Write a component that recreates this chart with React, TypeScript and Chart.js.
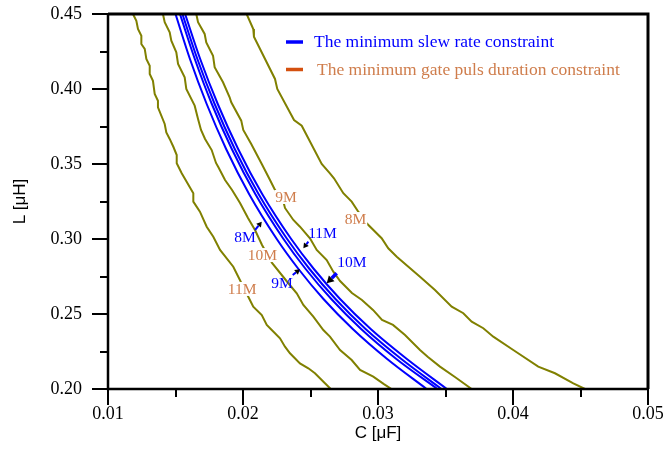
import React, { useEffect, useRef } from 'react';
import { Chart, registerables } from 'chart.js';

Chart.register(...registerables);

// ---------- data (C in µF, L in µH) ----------
const xTickLabels = ['0.01', '0.02', '0.03', '0.04', '0.05'];
const yTickLabels = ['0.20', '0.25', '0.30', '0.35', '0.40', '0.45'];

// minimum gate pulse duration constraint curves (olive)
const gate11M_C = [0.01185, 0.0121, 0.01222, 0.01247, 0.01247, 0.01272, 0.01284, 0.01309, 0.01309, 0.01333, 0.01346, 0.0137, 0.0137, 0.0142, 0.01432, 0.01457, 0.01484, 0.01509, 0.01509, 0.01546, 0.01632, 0.01632, 0.01681, 0.01731, 0.0178, 0.0183, 0.01928, 0.02039, 0.02076, 0.02139, 0.02176, 0.02213, 0.02274, 0.02311, 0.02348, 0.02422, 0.02484, 0.02533, 0.02607, 0.0265];
const gate11M_L = [0.45, 0.4455, 0.44, 0.4355, 0.43, 0.4267, 0.42, 0.4155, 0.41, 0.4055, 0.3967, 0.3922, 0.3878, 0.3767, 0.3711, 0.3667, 0.3615, 0.356, 0.3505, 0.3438, 0.3305, 0.3249, 0.3182, 0.3082, 0.3015, 0.2927, 0.2815, 0.2615, 0.2549, 0.2493, 0.2427, 0.2393, 0.2338, 0.2282, 0.2238, 0.2171, 0.2138, 0.2105, 0.2038, 0.2];

const gate10M_C = [0.01407, 0.0142, 0.01457, 0.01469, 0.01506, 0.01519, 0.01568, 0.0158, 0.01642, 0.01667, 0.01689, 0.01719, 0.01768, 0.018, 0.01817, 0.01867, 0.01919, 0.01978, 0.02037, 0.02089, 0.02141, 0.02215, 0.02336, 0.02398, 0.02447, 0.02521, 0.02595, 0.02644, 0.02719, 0.02805, 0.02867, 0.02965, 0.03044, 0.031];
const gate10M_L = [0.45, 0.4445, 0.4378, 0.4322, 0.4245, 0.4167, 0.4078, 0.4, 0.3889, 0.38, 0.3727, 0.3667, 0.3593, 0.3507, 0.348, 0.3393, 0.3327, 0.324, 0.314, 0.306, 0.296, 0.284, 0.2705, 0.2638, 0.256, 0.2482, 0.2393, 0.2349, 0.226, 0.2193, 0.2127, 0.2082, 0.2033, 0.2];

const gate9M_C = [0.01654, 0.01667, 0.01716, 0.01728, 0.01778, 0.0179, 0.01852, 0.01901, 0.01913, 0.01987, 0.02002, 0.02061, 0.02139, 0.022, 0.02237, 0.02296, 0.02311, 0.02373, 0.02422, 0.02496, 0.02546, 0.0262, 0.02669, 0.02719, 0.02807, 0.02881, 0.02963, 0.0303, 0.03111, 0.032, 0.03311, 0.0337, 0.03459, 0.0357, 0.03694];
const gate9M_L = [0.45, 0.4445, 0.4367, 0.4311, 0.4222, 0.4145, 0.4045, 0.3945, 0.3911, 0.3789, 0.3727, 0.3633, 0.35, 0.3393, 0.3327, 0.326, 0.3207, 0.3127, 0.3082, 0.3005, 0.2927, 0.286, 0.2782, 0.272, 0.264, 0.2593, 0.2527, 0.246, 0.2427, 0.236, 0.226, 0.2213, 0.2149, 0.208, 0.2];

const gate8M_C = [0.02027, 0.02076, 0.02081, 0.02237, 0.02254, 0.02378, 0.02435, 0.02583, 0.02644, 0.02674, 0.02743, 0.02805, 0.02854, 0.02916, 0.03027, 0.03076, 0.03139, 0.03311, 0.03422, 0.03546, 0.03632, 0.03694, 0.0378, 0.03854, 0.04002, 0.04187, 0.04311, 0.04447, 0.04533];
const gate8M_L = [0.45, 0.44, 0.4349, 0.4067, 0.4, 0.3793, 0.3755, 0.35, 0.3438, 0.3405, 0.3305, 0.3249, 0.3182, 0.3105, 0.3005, 0.2938, 0.2882, 0.2749, 0.266, 0.2549, 0.2505, 0.2449, 0.2405, 0.2349, 0.226, 0.2149, 0.2105, 0.2038, 0.2];

// minimum slew rate constraint curves (blue)
const slewL = [0.45, 0.42, 0.39, 0.36, 0.33, 0.3, 0.28, 0.26, 0.24, 0.22, 0.2];
const slew8M_C = [0.015, 0.01607, 0.01731, 0.01875, 0.02045, 0.0225, 0.02411, 0.02596, 0.02813, 0.03068, 0.0336];
const slew9M_C = [0.01533, 0.01643, 0.01769, 0.01917, 0.02091, 0.023, 0.02464, 0.02654, 0.02875, 0.03136, 0.0344];
const slew10M_C = [0.01551, 0.01662, 0.0179, 0.01939, 0.02115, 0.02327, 0.02493, 0.02685, 0.02908, 0.03173, 0.0347];
const slew11M_C = [0.01571, 0.01683, 0.01813, 0.01964, 0.02142, 0.02357, 0.02525, 0.02719, 0.02946, 0.03214, 0.0351];

const legendTexts = ['The minimum slew rate constraint', 'The minimum gate puls duration constraint'];

// curve annotations (data coordinates)
const gateLabels = [
  { text: '9M', c: 0.02319, l: 0.328 },
  { text: '8M', c: 0.02833, l: 0.3133 },
  { text: '10M', c: 0.02144, l: 0.2893 },
  { text: '11M', c: 0.01993, l: 0.2667 },
];
const slewLabels = [
  { text: '8M', c: 0.02015, l: 0.3013, tail: [0.02089, 0.306], tip: [0.02139, 0.3115], w: 2 },
  { text: '11M', c: 0.02589, l: 0.304, tail: [0.02484, 0.2982], tip: [0.02447, 0.2938], w: 2 },
  { text: '9M', c: 0.02289, l: 0.2707, tail: [0.02368, 0.276], tip: [0.02422, 0.2798], w: 2 },
  { text: '10M', c: 0.02807, l: 0.2847, tail: [0.02694, 0.2771], tip: [0.0262, 0.2705], w: 3.5 },
];

const OLIVE = '#808000';
const BLUE = '#0000ff';
const ORANGE_TXT = '#cf7d4c';
const ORANGE_LINE = '#d4500f';
const SERIF = '"Liberation Serif", "Times New Roman", serif';
const SANS = '"Liberation Sans", Arial, sans-serif';

const zip = (cs: number[], ls: number[]) => {
  const n = Math.min(cs.length, ls.length);
  const out: { x: number; y: number }[] = [];
  for (let i = 0; i < n; i++) out.push({ x: cs[i], y: ls[i] });
  return out;
};

const isMultiple = (v: number, step: number) => Math.abs(v / step - Math.round(v / step)) < 1e-6;

const decorPlugin = {
  id: 'decor',
  afterDraw(chart: any) {
    const { ctx, chartArea: a } = chart;
    const xs = chart.scales.x;
    const ys = chart.scales.y;
    ctx.save();
    ctx.strokeStyle = '#000';
    ctx.lineCap = 'butt';

    // ticks
    ctx.lineWidth = 2;
    xs.ticks.forEach((t: any) => {
      const px = Math.round(xs.getPixelForValue(t.value));
      const len = isMultiple(t.value, 0.01) ? 16 : 8;
      ctx.beginPath();
      ctx.moveTo(px, a.bottom);
      ctx.lineTo(px, a.bottom + len);
      ctx.stroke();
    });
    ys.ticks.forEach((t: any) => {
      const py = Math.round(ys.getPixelForValue(t.value));
      const len = isMultiple(t.value, 0.05) ? 16 : 8;
      ctx.beginPath();
      ctx.moveTo(a.left, py);
      ctx.lineTo(a.left - len, py);
      ctx.stroke();
    });

    // frame
    ctx.lineWidth = 2.5;
    ctx.beginPath();
    ctx.moveTo(a.left, a.top);
    ctx.lineTo(a.left, a.bottom);
    ctx.lineTo(a.right, a.bottom);
    ctx.stroke();
    ctx.lineWidth = 3;
    ctx.beginPath();
    ctx.moveTo(a.left, a.top);
    ctx.lineTo(a.right, a.top);
    ctx.lineTo(a.right, a.bottom);
    ctx.stroke();

    // axis titles
    ctx.fillStyle = '#000';
    ctx.font = `17px ${SANS}`;
    ctx.textAlign = 'center';
    ctx.textBaseline = 'middle';
    ctx.fillText('C [\u03bcF]', (a.left + a.right) / 2, a.bottom + 44);
    ctx.save();
    ctx.translate(20, (a.top + a.bottom) / 2);
    ctx.rotate(-Math.PI / 2);
    ctx.fillText('L [\u03bcH]', 0, 0);
    ctx.restore();

    // legend
    const lx0 = a.left + 178;
    ctx.lineWidth = 3.5;
    ctx.strokeStyle = BLUE;
    ctx.beginPath();
    ctx.moveTo(lx0, a.top + 28);
    ctx.lineTo(lx0 + 17, a.top + 28);
    ctx.stroke();
    ctx.strokeStyle = ORANGE_LINE;
    ctx.beginPath();
    ctx.moveTo(lx0, a.top + 55.5);
    ctx.lineTo(lx0 + 17, a.top + 55.5);
    ctx.stroke();
    ctx.font = `17.5px ${SERIF}`;
    ctx.textAlign = 'left';
    ctx.textBaseline = 'alphabetic';
    ctx.fillStyle = BLUE;
    ctx.fillText(legendTexts[0], lx0 + 28, a.top + 33);
    ctx.fillStyle = ORANGE_TXT;
    ctx.fillText(legendTexts[1], lx0 + 31, a.top + 61);

    // gate labels with white background
    ctx.font = `15.5px ${SERIF}`;
    ctx.textAlign = 'center';
    ctx.textBaseline = 'middle';
    gateLabels.forEach((g) => {
      const px = xs.getPixelForValue(g.c);
      const py = ys.getPixelForValue(g.l);
      const w = ctx.measureText(g.text).width;
      ctx.fillStyle = '#fff';
      ctx.fillRect(px - w / 2 - 1, py - 7, w + 2, 14);
      ctx.fillStyle = ORANGE_TXT;
      ctx.fillText(g.text, px, py + 1);
    });

    // slew labels with arrows
    slewLabels.forEach((s) => {
      const px = xs.getPixelForValue(s.c);
      const py = ys.getPixelForValue(s.l);
      ctx.fillStyle = BLUE;
      ctx.fillText(s.text, px, py + 1);
      const tx = xs.getPixelForValue(s.tail[0]);
      const ty = ys.getPixelForValue(s.tail[1]);
      const hx = xs.getPixelForValue(s.tip[0]);
      const hy = ys.getPixelForValue(s.tip[1]);
      const ang = Math.atan2(hy - ty, hx - tx);
      const hl = s.w > 2 ? 7 : 5;
      const hw = s.w > 2 ? 4 : 3;
      const bx = hx - hl * Math.cos(ang);
      const by = hy - hl * Math.sin(ang);
      ctx.strokeStyle = BLUE;
      ctx.lineWidth = s.w;
      ctx.beginPath();
      ctx.moveTo(tx, ty);
      ctx.lineTo(bx, by);
      ctx.stroke();
      ctx.fillStyle = '#000';
      ctx.beginPath();
      ctx.moveTo(hx, hy);
      ctx.lineTo(bx + hw * Math.sin(ang), by - hw * Math.cos(ang));
      ctx.lineTo(bx - hw * Math.sin(ang), by + hw * Math.cos(ang));
      ctx.closePath();
      ctx.fill();
    });

    ctx.restore();
  },
};

export default function App() {
  const ref = useRef<HTMLCanvasElement | null>(null);

  useEffect(() => {
    document.body.style.margin = '0';
    const canvas = ref.current;
    if (!canvas) return;

    const olive = (d: { x: number; y: number }[]) => ({
      data: d,
      borderColor: OLIVE,
      borderWidth: 2,
      pointRadius: 0,
      tension: 0,
      fill: false,
    });
    const blue = (d: { x: number; y: number }[]) => ({
      data: d,
      borderColor: BLUE,
      borderWidth: 2,
      pointRadius: 0,
      cubicInterpolationMode: 'monotone' as const,
      fill: false,
    });

    const chart = new Chart(canvas, {
      type: 'line',
      data: {
        datasets: [
          olive(zip(gate11M_C, gate11M_L)),
          olive(zip(gate10M_C, gate10M_L)),
          olive(zip(gate9M_C, gate9M_L)),
          olive(zip(gate8M_C, gate8M_L)),
          blue(zip(slew8M_C, slewL)),
          blue(zip(slew9M_C, slewL)),
          blue(zip(slew10M_C, slewL)),
          blue(zip(slew11M_C, slewL)),
        ] as any,
      },
      options: {
        animation: false,
        responsive: false,
        devicePixelRatio: 1,
        layout: { padding: { top: 14, right: 17, left: 0, bottom: 0 } },
        plugins: { legend: { display: false }, tooltip: { enabled: false } },
        scales: {
          x: {
            type: 'linear',
            min: 0.01,
            max: 0.05,
            grid: { display: false, drawTicks: false },
            border: { display: false },
            ticks: {
              stepSize: 0.005,
              autoSkip: false,
              maxRotation: 0,
              padding: 14,
              color: '#000',
              font: { family: SERIF, size: 18 },
              callback: (v: any) => {
                const lab = xTickLabels.find((s) => Math.abs(Number(s) - Number(v)) < 1e-7);
                return lab ?? '';
              },
            },
            afterFit: (s: any) => {
              s.height = 77;
              s.paddingLeft = 0;
              s.paddingRight = 0;
            },
          },
          y: {
            type: 'linear',
            min: 0.2,
            max: 0.45,
            grid: { display: false, drawTicks: false },
            border: { display: false },
            ticks: {
              stepSize: 0.025,
              autoSkip: false,
              padding: 26,
              color: '#000',
              font: { family: SERIF, size: 18 },
              callback: (v: any) => {
                const lab = yTickLabels.find((s) => Math.abs(Number(s) - Number(v)) < 1e-7);
                return lab ?? '';
              },
            },
            afterFit: (s: any) => {
              s.width = 108;
              s.paddingTop = 0;
              s.paddingBottom = 0;
            },
          },
        },
      },
      plugins: [decorPlugin],
    });

    return () => chart.destroy();
  }, []);

  return <canvas ref={ref} width={665} height={466} style={{ display: 'block' }} />;
}
